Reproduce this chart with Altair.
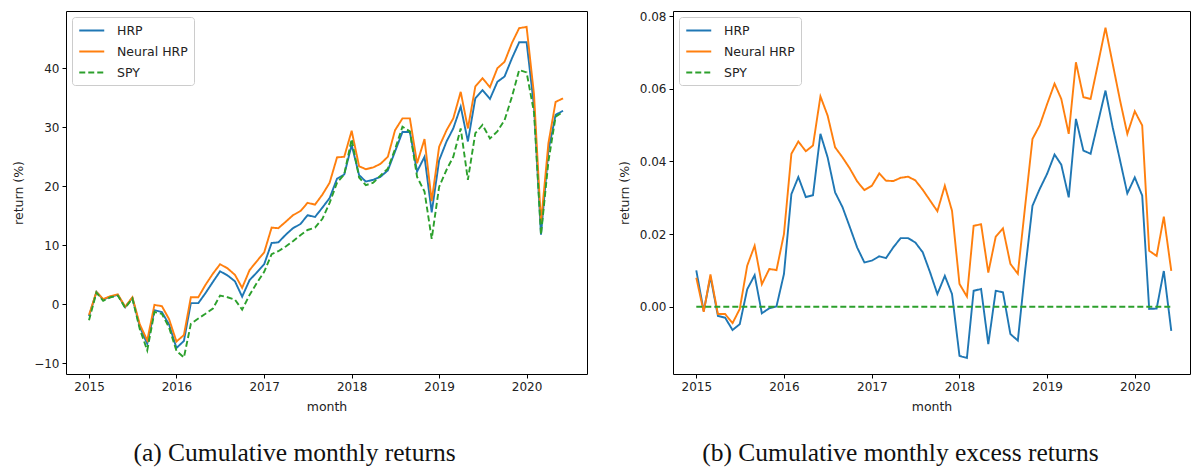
import altair as alt
import pandas as pd

# Monthly observations, January 2015 to June 2020
months = [f"{y}-{m:02d}-01" for y in range(2015, 2021) for m in range(1, 13)][:66]
series_names = ["HRP", "Neural HRP", "SPY"]
series_colors = ["#1f77b4", "#ff7f0e", "#2ca02c"]

# (a) cumulative monthly returns, in percent
cum_hrp = [
    -2.0, 2.1, 0.8, 1.3, 1.6, -0.5, 1.1, -3.8, -6.7, -1.0, -1.3, -3.4,
    -7.4, -6.2, 0.2, 0.2, 1.9, 3.8, 5.6, 4.9, 3.9, 1.3, 4.1, 5.4,
    6.8, 10.4, 10.5, 11.8, 12.9, 13.6, 15.1, 14.8, 16.4, 18.0, 21.3, 22.0,
    27.0, 21.9, 20.8, 21.1, 21.6, 22.7, 25.9, 29.2, 29.2, 22.5, 25.0, 15.6,
    24.4, 27.6, 29.8, 33.5, 27.6, 34.9, 36.3, 34.8, 37.7, 38.6, 41.7, 44.4,
    44.4, 33.5, 11.8, 26.1, 32.1, 32.8,
]
cum_neural = [
    -1.8, 2.1, 0.9, 1.4, 1.7, -0.4, 1.2, -3.4, -6.1, -0.1, -0.3, -2.5,
    -6.3, -5.2, 1.2, 1.2, 3.3, 5.2, 6.8, 6.1, 5.0, 2.8, 5.8, 7.3,
    8.8, 13.0, 12.9, 14.0, 15.1, 15.8, 17.2, 16.9, 18.6, 20.6, 24.9, 25.0,
    29.4, 23.4, 22.9, 23.2, 23.8, 25.0, 29.5, 31.5, 31.5, 23.9, 28.0, 17.5,
    26.7, 29.5, 31.5, 36.0, 29.8, 36.9, 38.3, 36.8, 40.0, 41.1, 44.3, 46.8,
    47.0, 35.5, 13.8, 27.3, 34.3, 34.9,
]
cum_spy = [
    -2.7, 2.0, 0.6, 1.2, 1.5, -0.6, 1.0, -4.2, -7.8, -1.3, -1.6, -3.9,
    -7.9, -9.0, -3.3, -2.4, -1.6, -0.7, 1.5, 1.2, 0.8, -0.9, 1.6, 3.6,
    5.5, 8.5, 9.0, 9.8, 10.7, 11.7, 12.6, 13.0, 14.5, 17.2, 20.6, 22.0,
    28.0, 21.5, 20.2, 20.6, 21.8, 23.0, 26.3, 30.1, 29.3, 21.6, 19.1, 11.1,
    19.9, 22.8, 25.0, 29.8, 21.1, 29.0, 30.4, 28.1, 29.3, 31.2, 35.2, 39.7,
    39.3, 32.5, 11.8, 24.2, 31.8, 32.6,
]

# (b) cumulative monthly excess returns over SPY
exc_hrp = [
    0.0100, -0.0012, 0.0083, -0.0025, -0.0030, -0.0064, -0.0048, 0.0048, 0.0087, -0.0018, -0.0004, 0.0001,
    0.0090, 0.0310, 0.0357, 0.0302, 0.0307, 0.0476, 0.0411, 0.0315, 0.0274, 0.0220, 0.0163, 0.0122,
    0.0127, 0.0139, 0.0134, 0.0164, 0.0189, 0.0189, 0.0177, 0.0150, 0.0094, 0.0035, 0.0085, 0.0035,
    -0.0135, -0.0141, 0.0044, 0.0049, -0.0103, 0.0044, 0.0040, -0.0075, -0.0093, 0.0097, 0.0278, 0.0324,
    0.0366, 0.0419, 0.0391, 0.0301, 0.0517, 0.0430, 0.0421, 0.0508, 0.0595, 0.0494, 0.0402, 0.0312,
    0.0356, 0.0306, -0.0006, -0.0005, 0.0099, -0.0066,
]
exc_neural = [
    0.0080, -0.0014, 0.0089, -0.0020, -0.0020, -0.0045, -0.0006, 0.0113, 0.0168, 0.0062, 0.0104, 0.0101,
    0.0200, 0.0421, 0.0455, 0.0428, 0.0444, 0.0579, 0.0526, 0.0439, 0.0411, 0.0381, 0.0345, 0.0321,
    0.0333, 0.0367, 0.0347, 0.0346, 0.0355, 0.0358, 0.0348, 0.0322, 0.0292, 0.0263, 0.0333, 0.0264,
    0.0063, 0.0028, 0.0223, 0.0227, 0.0094, 0.0193, 0.0216, 0.0118, 0.0091, 0.0274, 0.0462, 0.0499,
    0.0558, 0.0614, 0.0572, 0.0476, 0.0673, 0.0577, 0.0572, 0.0669, 0.0768, 0.0669, 0.0567, 0.0476,
    0.0538, 0.0499, 0.0154, 0.0140, 0.0248, 0.0099,
]
exc_spy = [0.0] * 66


def long_table(values_by_series):
    rows = []
    for name, values in zip(series_names, values_by_series):
        for month, v in zip(months, values):
            rows.append({"month": month, "series": name, "value": v})
    return pd.DataFrame(rows)


year_ticks = [alt.DateTime(year=y, month=1, date=1, utc=True) for y in range(2015, 2021)]


def series_legend():
    # short horizontal line handles, drawn to the right of the symbol anchor
    return alt.Legend(
        title=None,
        orient="top-left",
        offset=6,
        padding=6,
        fillColor="white",
        strokeColor="#cccccc",
        cornerRadius=3,
        symbolType="M-1,0H3",
        symbolSize=156,
        symbolStrokeWidth=1.9,
        labelFont="DejaVu Sans",
        labelFontSize=12.5,
        labelColor="#222222",
        rowPadding=7,
        labelOffset=24,
    )


def panel(df, x_domain, y_domain, y_ticks, y_format, width, caption, caption_dx):
    return (
        alt.Chart(df)
        .mark_line(strokeWidth=1.9, clip=True)
        .encode(
            x=alt.X(
                "month:T",
                title="month",
                scale=alt.Scale(type="utc", domain=x_domain, nice=False),
                axis=alt.Axis(values=year_ticks, format="%Y", formatType="utc"),
            ),
            y=alt.Y(
                "value:Q",
                title="return (%)",
                scale=alt.Scale(domain=y_domain, nice=False, zero=False),
                axis=alt.Axis(values=y_ticks, format=y_format),
            ),
            color=alt.Color(
                "series:N",
                sort=series_names,
                scale=alt.Scale(domain=series_names, range=series_colors),
                legend=series_legend(),
            ),
            strokeDash=alt.StrokeDash(
                "series:N",
                sort=series_names,
                scale=alt.Scale(domain=series_names, range=[[1, 0], [1, 0], [6, 3]]),
                legend=series_legend(),
            ),
            order=alt.Order("series:N"),
        )
        .properties(
            width=width,
            height=363,
            title=alt.TitleParams(
                caption,
                orient="bottom",
                anchor="middle",
                frame="group",
                dx=caption_dx,
                offset=28,
                font="Liberation Serif",
                fontSize=25.5,
                fontWeight="normal",
                color="#111111",
            ),
        )
    )


left = panel(
    long_table([cum_hrp, cum_neural, cum_spy]),
    [alt.DateTime(year=2014, month=9, date=27, utc=True), alt.DateTime(year=2020, month=9, date=9, utc=True)],
    [-11.8, 49.7],
    [-10, 0, 10, 20, 30, 40],
    "d",
    521,
    "(a) Cumulative monthly returns",
    -32,
)

right = panel(
    long_table([exc_hrp, exc_neural, exc_spy]),
    [alt.DateTime(year=2014, month=9, date=26, utc=True), alt.DateTime(year=2020, month=8, date=18, utc=True)],
    [-0.0185, 0.0814],
    [0.0, 0.02, 0.04, 0.06, 0.08],
    ".2f",
    517,
    "(b) Cumulative monthly excess returns",
    -31,
)

chart = (
    alt.hconcat(left, right, spacing=86, bounds="flush")
    .resolve_scale(color="independent", strokeDash="independent", x="independent", y="independent")
    .properties(padding={"left": 12, "top": 9, "right": 0, "bottom": 0}, background="white")
    .configure_view(stroke="#000000", strokeWidth=1)
    .configure_axis(
        domain=False,
        grid=False,
        ticks=True,
        tickColor="#000000",
        tickSize=4,
        tickWidth=1,
        labelFont="DejaVu Sans",
        labelFontSize=12,
        labelColor="#222222",
        labelPadding=3,
        titleFont="DejaVu Sans",
        titleFontSize=12.5,
        titleFontWeight="normal",
        titleColor="#222222",
        titlePadding=8,
    )
    .configure_concat(spacing=86)
)

chart.save("out.html", embed_options={"renderer": "svg", "actions": False})
